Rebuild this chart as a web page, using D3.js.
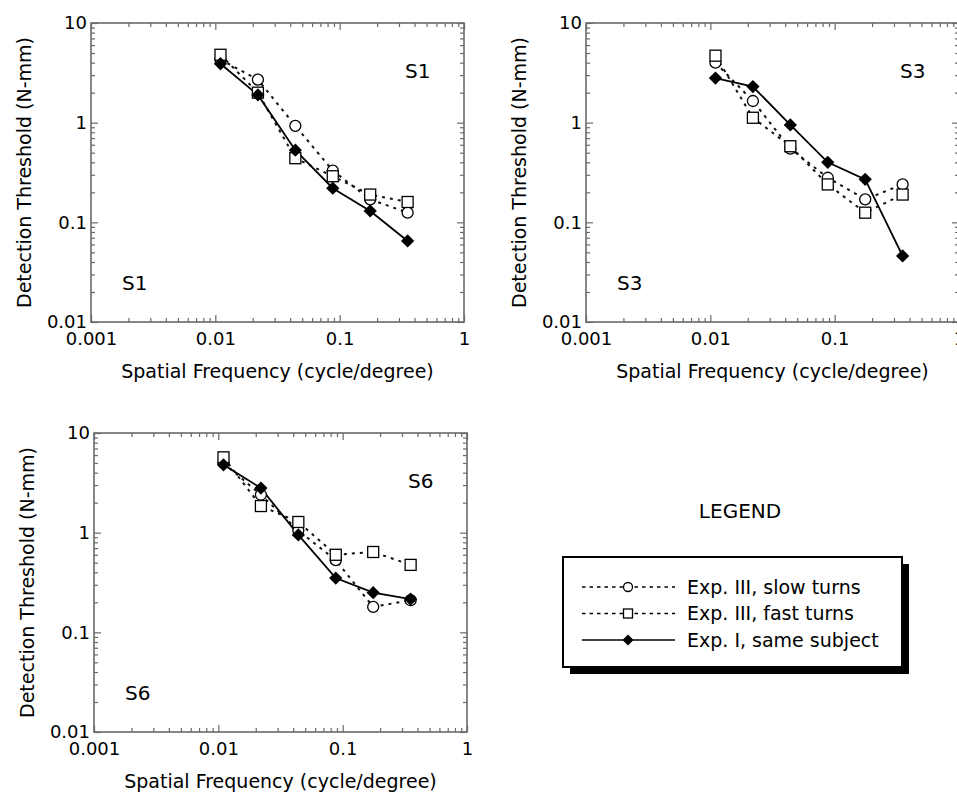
<!DOCTYPE html>
<html>
<head>
<meta charset="utf-8">
<script src="https://cdn.jsdelivr.net/npm/d3@7"></script>
<style>
  body { margin: 0; background: #fff; }
  text { font-family: "DejaVu Sans", Verdana, sans-serif; }
</style>
</head>
<body>
<div id="chart"></div>
<script>
// spatial frequency (cycle/degree)
var freq = [0.011, 0.022, 0.044, 0.088, 0.176, 0.352];

// detection thresholds (N-mm)
var s1Slow = [4.3, 2.7, 0.93, 0.33, 0.17, 0.125];
var s1Fast = [4.8, 2.0, 0.44, 0.29, 0.19, 0.16];
var s1Exp1 = [3.9, 1.9, 0.53, 0.22, 0.13, 0.065];

var s3Slow = [4.0, 1.65, 0.55, 0.28, 0.17, 0.24];
var s3Fast = [4.7, 1.12, 0.58, 0.24, 0.125, 0.19];
var s3Exp1 = [2.8, 2.3, 0.95, 0.40, 0.27, 0.046];

var s6Slow = [5.0, 2.4, 1.05, 0.53, 0.18, 0.21];
var s6Fast = [5.7, 1.85, 1.28, 0.60, 0.64, 0.475];
var s6Exp1 = [4.8, 2.8, 0.95, 0.35, 0.25, 0.215];

var xTicks = [0.001, 0.01, 0.1, 1],
    xTickLabels = ["0.001", "0.01", "0.1", "1"];
var yTicks = [0.01, 0.1, 1, 10],
    yTickLabels = ["0.01", "0.1", "1", "10"];

var legendLabels = ["Exp. III, slow turns", "Exp. III, fast turns", "Exp. I, same subject"];

var panels = [
  { name: "S1", left: 91, top: 23, slow: s1Slow, fast: s1Fast, exp1: s1Exp1 },
  { name: "S3", left: 586, top: 23, slow: s3Slow, fast: s3Fast, exp1: s3Exp1 },
  { name: "S6", left: 94, top: 433, slow: s6Slow, fast: s6Fast, exp1: s6Exp1 }
];

var plotW = 373,
    plotH = 299,
    frameColor = "#6a6a6a";

var svg = d3.select("#chart").append("svg")
    .attr("width", 957)
    .attr("height", 797);

var x = d3.scaleLog().domain([0.001, 1]).range([0, plotW]);
var y = d3.scaleLog().domain([0.01, 10]).range([plotH, 0]);

var xMinor = x.ticks().filter(d => xTicks.indexOf(d) < 0);
var yMinor = y.ticks().filter(d => yTicks.indexOf(d) < 0);

var line = d3.line()
    .x(d => x(d[0]))
    .y(d => y(d[1]));

var diamond = d3.symbol().type(d3.symbolSquare).size(88);

function styleAxis(g) {
  g.select(".domain").remove();
  g.selectAll("line").attr("stroke", frameColor).attr("stroke-width", 1.2);
  g.selectAll("text")
      .attr("fill", "#000")
      .attr("font-size", "18px")
      .attr("font-family", "DejaVu Sans, Verdana, sans-serif");
}

panels.forEach(function(p) {
  var g = svg.append("g")
      .attr("transform", "translate(" + p.left + "," + p.top + ")");

  // minor ticks on all four sides
  g.append("g").attr("transform", "translate(0," + plotH + ")")
      .call(d3.axisBottom(x).tickValues(xMinor).tickFormat("").tickSize(-4).tickSizeOuter(0)).call(styleAxis);
  g.append("g")
      .call(d3.axisTop(x).tickValues(xMinor).tickFormat("").tickSize(-4).tickSizeOuter(0)).call(styleAxis);
  g.append("g")
      .call(d3.axisLeft(y).tickValues(yMinor).tickFormat("").tickSize(-4).tickSizeOuter(0)).call(styleAxis);
  g.append("g").attr("transform", "translate(" + plotW + ",0)")
      .call(d3.axisRight(y).tickValues(yMinor).tickFormat("").tickSize(-4).tickSizeOuter(0)).call(styleAxis);

  // major ticks
  g.append("g").attr("transform", "translate(0," + plotH + ")")
      .call(d3.axisBottom(x).tickValues(xTicks).tickFormat((d, i) => xTickLabels[i]).tickSize(-7).tickSizeOuter(0).tickPadding(10))
      .call(styleAxis);
  g.append("g")
      .call(d3.axisTop(x).tickValues(xTicks).tickFormat("").tickSize(-7).tickSizeOuter(0)).call(styleAxis);
  g.append("g")
      .call(d3.axisLeft(y).tickValues(yTicks).tickFormat((d, i) => yTickLabels[i]).tickSize(-7).tickSizeOuter(0).tickPadding(4))
      .call(styleAxis);
  g.append("g").attr("transform", "translate(" + plotW + ",0)")
      .call(d3.axisRight(y).tickValues(yTicks).tickFormat("").tickSize(-7).tickSizeOuter(0)).call(styleAxis);

  g.append("rect")
      .attr("width", plotW)
      .attr("height", plotH)
      .attr("fill", "none")
      .attr("stroke", frameColor)
      .attr("stroke-width", 1.6);

  // axis titles
  g.append("text")
      .attr("x", plotW / 2)
      .attr("y", plotH + 56)
      .attr("text-anchor", "middle")
      .attr("font-size", "19px")
      .text("Spatial Frequency (cycle/degree)");

  g.append("text")
      .attr("transform", "translate(-60," + (plotH / 2) + ") rotate(-90)")
      .attr("text-anchor", "middle")
      .attr("font-size", "19px")
      .text("Detection Threshold (N-mm)");

  // subject labels
  g.append("text")
      .attr("x", 314).attr("y", 55)
      .attr("font-size", "20px")
      .text(p.name);
  g.append("text")
      .attr("x", 31).attr("y", 267)
      .attr("font-size", "20px")
      .text(p.name);

  var slow = freq.map((f, i) => [f, p.slow[i]]),
      fast = freq.map((f, i) => [f, p.fast[i]]),
      exp1 = freq.map((f, i) => [f, p.exp1[i]]);

  [slow, fast].forEach(function(s) {
    g.append("path")
        .datum(s)
        .attr("d", line)
        .attr("fill", "none")
        .attr("stroke", "#111")
        .attr("stroke-width", 2)
        .attr("stroke-dasharray", "3,5");
  });

  g.append("path")
      .datum(exp1)
      .attr("d", line)
      .attr("fill", "none")
      .attr("stroke", "#000")
      .attr("stroke-width", 1.8);

  g.append("g").selectAll("circle")
      .data(slow)
    .join("circle")
      .attr("cx", d => x(d[0]))
      .attr("cy", d => y(d[1]))
      .attr("r", 5.5)
      .attr("fill", "#fff")
      .attr("stroke", "#000")
      .attr("stroke-width", 1.3);

  g.append("g").selectAll("rect")
      .data(fast)
    .join("rect")
      .attr("x", d => x(d[0]) - 5.5)
      .attr("y", d => y(d[1]) - 5.5)
      .attr("width", 11)
      .attr("height", 11)
      .attr("fill", "#fff")
      .attr("stroke", "#000")
      .attr("stroke-width", 1.3);

  g.append("g").selectAll("path")
      .data(exp1)
    .join("path")
      .attr("d", diamond)
      .attr("transform", d => "translate(" + x(d[0]) + "," + y(d[1]) + ") rotate(45)")
      .attr("fill", "#000");
});

// legend
svg.append("text")
    .attr("x", 740)
    .attr("y", 518)
    .attr("text-anchor", "middle")
    .attr("font-size", "20px")
    .text("LEGEND");

var lg = svg.append("g").attr("transform", "translate(563,557)");
var boxW = 339, boxH = 110;

lg.append("rect")
    .attr("x", 7).attr("y", 7)
    .attr("width", boxW).attr("height", boxH)
    .attr("fill", "#000");
lg.append("rect")
    .attr("width", boxW).attr("height", boxH)
    .attr("fill", "#fff")
    .attr("stroke", "#000")
    .attr("stroke-width", 2);

var rowY = d3.scalePoint().domain(legendLabels).range([30, 83]);

legendLabels.forEach(function(label, i) {
  var ry = rowY(label);
  lg.append("line")
      .attr("x1", 19).attr("x2", 112)
      .attr("y1", ry).attr("y2", ry)
      .attr("stroke", "#000")
      .attr("stroke-width", i == 2 ? 1.6 : 1.4)
      .attr("stroke-dasharray", i == 2 ? null : "3.5,4");
  if (i == 0) {
    lg.append("circle")
        .attr("cx", 65).attr("cy", ry).attr("r", 4.5)
        .attr("fill", "#fff").attr("stroke", "#000").attr("stroke-width", 1.3);
  } else if (i == 1) {
    lg.append("rect")
        .attr("x", 60.5).attr("y", ry - 4.5).attr("width", 9).attr("height", 9)
        .attr("fill", "#fff").attr("stroke", "#000").attr("stroke-width", 1.3);
  } else {
    lg.append("path")
        .attr("d", d3.symbol().type(d3.symbolSquare).size(60))
        .attr("transform", "translate(65," + ry + ") rotate(45)")
        .attr("fill", "#000");
  }
  lg.append("text")
      .attr("x", 124)
      .attr("y", ry)
      .attr("dy", "0.36em")
      .attr("font-size", "19px")
      .text(label);
});
</script>
</body>
</html>
